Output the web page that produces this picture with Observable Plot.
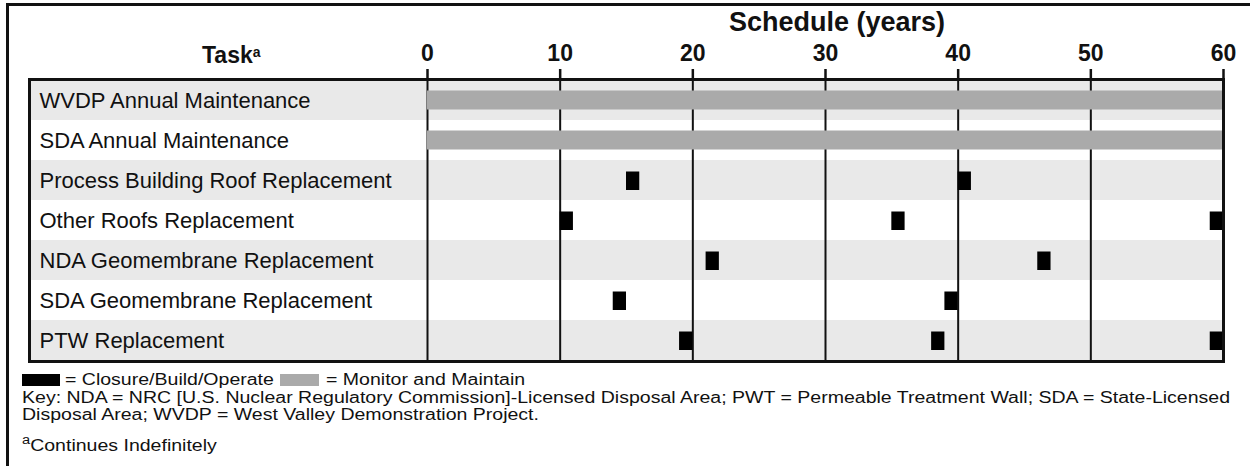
<!DOCTYPE html>
<html>
<head>
<meta charset="utf-8">
<script src="https://cdn.jsdelivr.net/npm/d3@7"></script>
<script src="https://cdn.jsdelivr.net/npm/@observablehq/plot@0.6"></script>
<style>
  html, body { margin: 0; padding: 0; background: #fff; }
  body { width: 1250px; height: 466px; overflow: hidden; position: relative;
         font-family: "Liberation Sans", Arial, Helvetica, sans-serif; color: #111; }
  #outer { position: absolute; left: 6px; top: 3px; width: 1400px; height: 600px;
           border-left: 3px solid #111; border-top: 3px solid #111; box-sizing: border-box; }
  #chart { position: absolute; left: 0; top: 0; }
  .abs { position: absolute; white-space: nowrap; }
  .hdr { font-weight: bold; }
  .foot { font-size: 16px; line-height: 16px; transform-origin: 0 0; transform: scaleX(1.22); }
  .sw { position: absolute; height: 12px; }
</style>
</head>
<body>
<div id="outer"></div>
<div id="chart"></div>
<div class="abs hdr" style="left:837px; top:9px; font-size:27px; line-height:27px; transform:translateX(-50%);">Schedule (years)</div>
<div class="abs hdr" style="left:202px; top:41px; font-size:23px; line-height:23px;">Task<span style="font-size:14px; vertical-align:6px;">a</span></div>

<div class="sw" style="left:22px; top:374px; width:38px; background:#000;"></div>
<div class="abs foot" style="left:65px; top:372px;">= Closure/Build/Operate</div>
<div class="sw" style="left:280px; top:374px; width:39px; background:#aaaaaa;"></div>
<div class="abs foot" style="left:326px; top:372px;">= Monitor and Maintain</div>
<div class="abs foot" style="left:22px; top:390px;">Key: NDA = NRC [U.S. Nuclear Regulatory Commission]-Licensed Disposal Area; PWT = Permeable Treatment Wall; SDA = State-Licensed</div>
<div class="abs foot" style="left:22px; top:407px;">Disposal Area; WVDP = West Valley Demonstration Project.</div>
<div class="abs foot" style="left:22px; top:432px;"><span style="font-size:12px; vertical-align:7px;">a</span>Continues Indefinitely</div>

<script>
// Task rows (top to bottom)
const tasks = [
  "WVDP Annual Maintenance",
  "SDA Annual Maintenance",
  "Process Building Roof Replacement",
  "Other Roofs Replacement",
  "NDA Geomembrane Replacement",
  "SDA Geomembrane Replacement",
  "PTW Replacement"
];

// Monitor and Maintain (gray) bars
const maintainTasks = ["WVDP Annual Maintenance", "SDA Annual Maintenance"];
const maintainStart = [0, 0];
const maintainEnd = [60, 60];

// Closure/Build/Operate (black) events
const buildTasks = [
  "Process Building Roof Replacement", "Process Building Roof Replacement",
  "Other Roofs Replacement", "Other Roofs Replacement", "Other Roofs Replacement",
  "NDA Geomembrane Replacement", "NDA Geomembrane Replacement",
  "SDA Geomembrane Replacement", "SDA Geomembrane Replacement",
  "PTW Replacement", "PTW Replacement", "PTW Replacement"
];
const buildStart = [15, 40, 10, 35, 59, 21, 46, 14, 39, 19, 38, 59];
const buildEnd   = [16, 41, 11, 36, 60, 22, 47, 15, 40, 20, 39, 60];

// Axis ticks (years)
const tickValues = [0, 10, 20, 30, 40, 50, 60];

const shadedRows = tasks.filter((d, i) => i % 2 === 0);
const maintain = maintainTasks.map((t, i) => ({task: t, start: maintainStart[i], end: maintainEnd[i]}));
const build = buildTasks.map((t, i) => ({task: t, start: buildStart[i], end: buildEnd[i]}));

const chart = Plot.plot({
  width: 1250,
  height: 366,
  marginLeft: 29,
  marginRight: 27,
  marginTop: 79,
  marginBottom: 5,
  style: {fontFamily: "'Liberation Sans', Arial, Helvetica, sans-serif", background: "transparent", color: "#111"},
  x: {domain: [0, 60], range: [427, 1223], axis: null},
  y: {domain: tasks, padding: 0, axis: null},
  marks: [
    Plot.cell(shadedRows, {y: d => d, fill: "#e9e9e9"}),
    Plot.ruleX(tickValues, {stroke: "#111", strokeWidth: 2}),
    Plot.barX(maintain, {x1: "start", x2: "end", y: "task", fill: "#aaaaaa", insetTop: 10.5, insetBottom: 10.5}),
    Plot.barX(build, {x1: "start", x2: "end", y: "task", fill: "#000", insetTop: 11.5, insetBottom: 10}),
    Plot.text(tasks, {y: d => d, text: d => d, frameAnchor: "left", textAnchor: "start", dx: 10, fontSize: 22, fill: "#111"}),
    Plot.frame({stroke: "#111", strokeWidth: 3}),
    Plot.axisX({ticks: tickValues, anchor: "top", tickSize: 11, tickPadding: 8, strokeWidth: 2.5,
                fontSize: 23, fontWeight: "bold", fill: "#111", label: null})
  ]
});
document.getElementById("chart").appendChild(chart);
</script>
</body>
</html>
